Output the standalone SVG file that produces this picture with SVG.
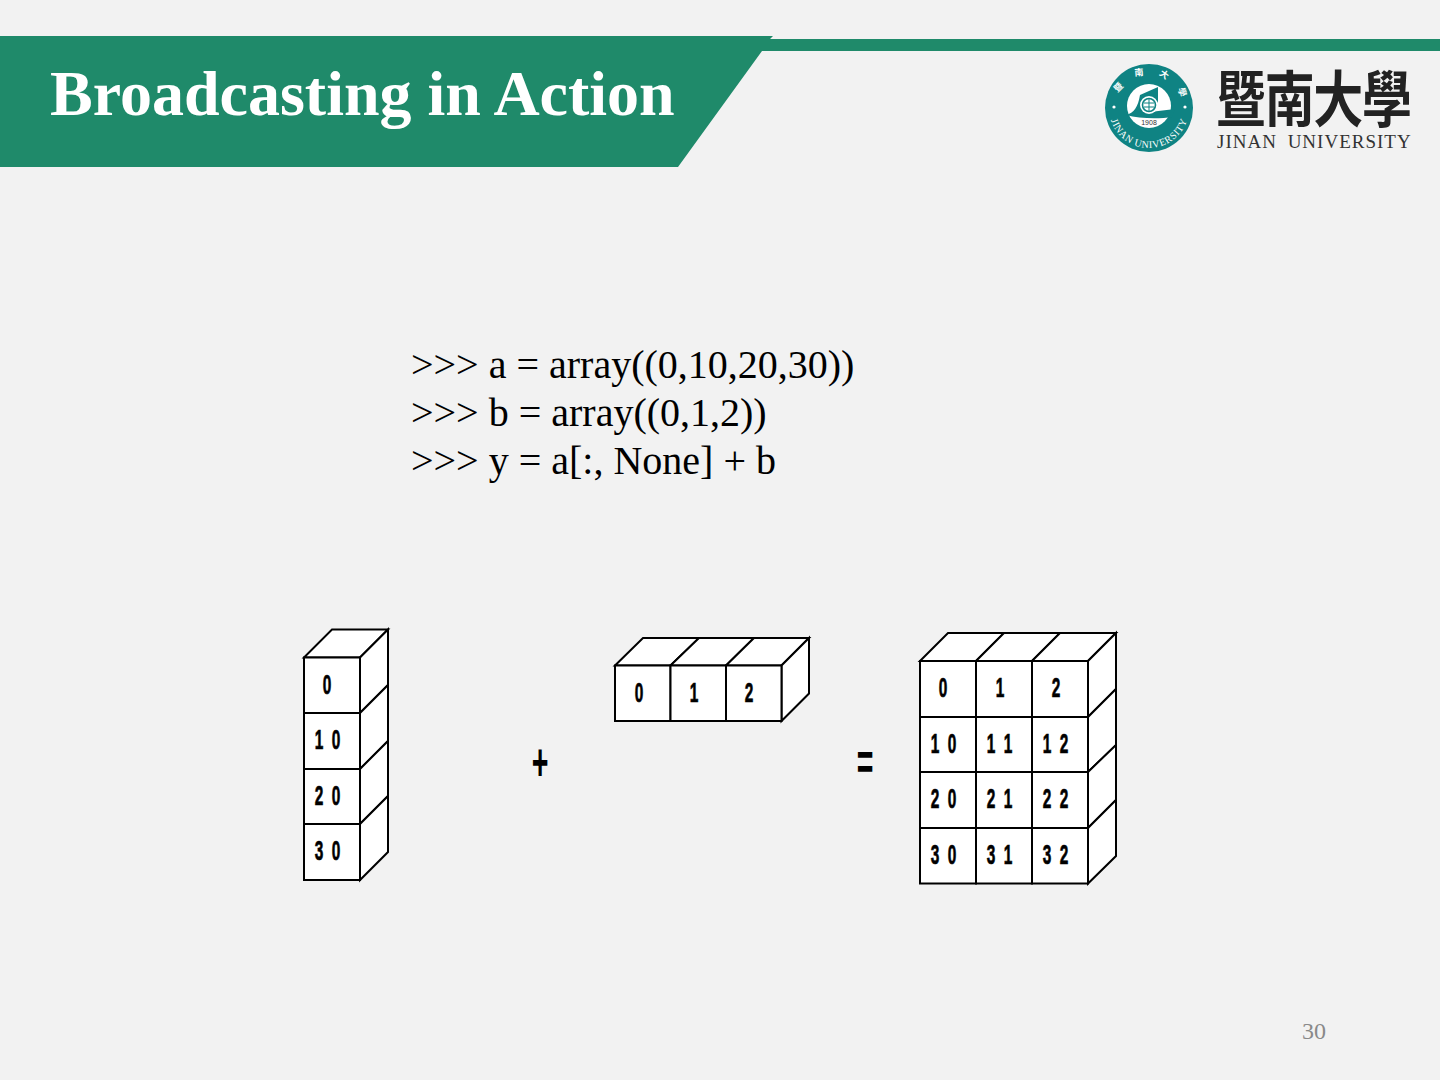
<svg xmlns="http://www.w3.org/2000/svg" width="1440" height="1080" viewBox="0 0 1440 1080">
<style>
.serif{font-family:"Liberation Serif","Times New Roman",serif}
.title{font-size:64px;font-weight:700;fill:#fff}
.code{font-size:40px;fill:#000}
.cell{fill:#fff;stroke:#000;stroke-width:2;stroke-linejoin:miter}
.d{font-family:"Liberation Sans",Arial,sans-serif;font-weight:700;font-size:28px;fill:#000;stroke:#000;stroke-width:.7;text-anchor:middle}
.op{font-family:"Liberation Sans",Arial,sans-serif;font-weight:700;font-size:52px;fill:#000;text-anchor:middle}
.teal{fill:#0f8383}
</style>
<rect width="1440" height="1080" fill="#f2f2f2"/>
<g id="banner">
<polygon points="0,36 773,36 770,39 1440,39 1440,51 762,51 678,167 0,167" fill="#1f8a6a"/>
<text class="serif title" x="50" y="115">Broadcasting in Action</text>
</g>
<defs>
<path id="arcTop" d="M1116,108 A33,33 0 0 1 1182,108"/>
<path id="arcBot" d="M1109,108 A40,40 0 0 0 1189,108"/>
</defs>
<g id="logo">
<circle class="teal" cx="1149" cy="108" r="44"/>
<circle cx="1149" cy="106" r="22" fill="#fff"/>
<path class="teal" d="M1126,115 C1134,113 1138,107 1140,95 L1158,87 L1158,102 L1150,112 L1175,109 L1172,117 C1160,119 1140,119 1126,115Z"/>
<circle cx="1149" cy="105" r="9" fill="#fff"/>
<circle cx="1149" cy="105" r="6.5" fill="none" stroke="#0f8383" stroke-width="1.6"/>
<path d="M1144,103h10M1144,107h10M1149,99v12" stroke="#0f8383" stroke-width="1" fill="none"/>
<text x="1149" y="125" font-family="Liberation Sans,Arial,sans-serif" font-size="7" fill="#333" text-anchor="middle">1908</text>
<text font-family="'Noto Sans CJK TC',sans-serif" font-size="9" font-weight="700" fill="#fff" letter-spacing="14"><textPath href="#arcTop" startOffset="14%">暨南大學</textPath></text>
<text font-family="'Liberation Serif',serif" font-size="10" letter-spacing=".6" fill="#fff" text-anchor="middle"><textPath href="#arcBot" startOffset="50%">JINAN UNIVERSITY</textPath></text>
<circle cx="1114" cy="107" r="1.6" fill="#fff"/>
<circle cx="1185" cy="107" r="1.6" fill="#fff"/>
<text transform="translate(1216,122) scale(1,1.22)" font-family="'Noto Sans CJK TC',sans-serif" font-size="50" font-weight="700" fill="#222" textLength="196" lengthAdjust="spacing">暨南大學</text>
<text class="serif" x="1217" y="148" font-size="19" letter-spacing="1" word-spacing="5" fill="#333">JINAN UNIVERSITY</text>
</g>
<g id="code" class="serif code">
<text x="411" y="378">&gt;&gt;&gt; a = array((0,10,20,30))</text>
<text x="411" y="426">&gt;&gt;&gt; b = array((0,1,2))</text>
<text x="411" y="474">&gt;&gt;&gt; y = a[:, None] + b</text>
</g>
<g id="array-a">
<path class="cell" d="M304,657.5L332,629.5H388L360,657.5Z"/>
<path class="cell" d="M360,657.5L388,629.5V685L360,713Z"/>
<path class="cell" d="M360,713L388,685V741L360,769Z"/>
<path class="cell" d="M360,769L388,741V796L360,824Z"/>
<path class="cell" d="M360,824L388,796V852L360,880Z"/>
<rect class="cell" x="304" y="657.5" width="56" height="55.5"/>
<rect class="cell" x="304" y="713" width="56" height="56"/>
<rect class="cell" x="304" y="769" width="56" height="55"/>
<rect class="cell" x="304" y="824" width="56" height="56"/>
<text class="d" transform="translate(327,694) scale(.55,1)">0</text>
<text class="d" transform="translate(319,749) scale(.55,1)">1</text><text class="d" transform="translate(336,749) scale(.55,1)">0</text>
<text class="d" transform="translate(319,805) scale(.55,1)">2</text><text class="d" transform="translate(336,805) scale(.55,1)">0</text>
<text class="d" transform="translate(319,860) scale(.55,1)">3</text><text class="d" transform="translate(336,860) scale(.55,1)">0</text>
</g>
<g id="plus"><text class="op" transform="translate(540,780) scale(.55,1)">+</text></g>
<g id="array-b">
<path class="cell" d="M615,665.5L643,638H699L670.5,665.5Z"/>
<path class="cell" d="M670.5,665.5L699,638H754L726,665.5Z"/>
<path class="cell" d="M726,665.5L754,638H809L781.5,665.5Z"/>
<path class="cell" d="M781.5,665.5L809,638V693.5L781.5,721Z"/>
<rect class="cell" x="615" y="665.5" width="55.5" height="55.5"/>
<rect class="cell" x="670.5" y="665.5" width="55.5" height="55.5"/>
<rect class="cell" x="726" y="665.5" width="55.5" height="55.5"/>
<text class="d" transform="translate(639,702) scale(.55,1)">0</text>
<text class="d" transform="translate(694,702) scale(.55,1)">1</text>
<text class="d" transform="translate(749,702) scale(.55,1)">2</text>
</g>
<g id="equals"><text class="op" transform="translate(865,780) scale(.55,1)">=</text></g>
<g id="array-y">
<path class="cell" d="M920,661L948,633H1004L976,661Z"/>
<path class="cell" d="M976,661L1004,633H1060L1032,661Z"/>
<path class="cell" d="M1032,661L1060,633H1116L1088,661Z"/>
<path class="cell" d="M1088,661L1116,633V689L1088,717Z"/>
<path class="cell" d="M1088,717L1116,689V745L1088,772Z"/>
<path class="cell" d="M1088,772L1116,745V800L1088,828Z"/>
<path class="cell" d="M1088,828L1116,800V856L1088,883.5Z"/>
<rect class="cell" x="920" y="661" width="56" height="56"/><rect class="cell" x="976" y="661" width="56" height="56"/><rect class="cell" x="1032" y="661" width="56" height="56"/>
<rect class="cell" x="920" y="717" width="56" height="55"/><rect class="cell" x="976" y="717" width="56" height="55"/><rect class="cell" x="1032" y="717" width="56" height="55"/>
<rect class="cell" x="920" y="772" width="56" height="56"/><rect class="cell" x="976" y="772" width="56" height="56"/><rect class="cell" x="1032" y="772" width="56" height="56"/>
<rect class="cell" x="920" y="828" width="56" height="55.5"/><rect class="cell" x="976" y="828" width="56" height="55.5"/><rect class="cell" x="1032" y="828" width="56" height="55.5"/>
<text class="d" transform="translate(943,697) scale(.55,1)">0</text>
<text class="d" transform="translate(1000,697) scale(.55,1)">1</text>
<text class="d" transform="translate(1056,697) scale(.55,1)">2</text>
<text class="d" transform="translate(935,753) scale(.55,1)">1</text><text class="d" transform="translate(952,753) scale(.55,1)">0</text>
<text class="d" transform="translate(991,753) scale(.55,1)">1</text><text class="d" transform="translate(1008,753) scale(.55,1)">1</text>
<text class="d" transform="translate(1047,753) scale(.55,1)">1</text><text class="d" transform="translate(1064,753) scale(.55,1)">2</text>
<text class="d" transform="translate(935,808) scale(.55,1)">2</text><text class="d" transform="translate(952,808) scale(.55,1)">0</text>
<text class="d" transform="translate(991,808) scale(.55,1)">2</text><text class="d" transform="translate(1008,808) scale(.55,1)">1</text>
<text class="d" transform="translate(1047,808) scale(.55,1)">2</text><text class="d" transform="translate(1064,808) scale(.55,1)">2</text>
<text class="d" transform="translate(935,864) scale(.55,1)">3</text><text class="d" transform="translate(952,864) scale(.55,1)">0</text>
<text class="d" transform="translate(991,864) scale(.55,1)">3</text><text class="d" transform="translate(1008,864) scale(.55,1)">1</text>
<text class="d" transform="translate(1047,864) scale(.55,1)">3</text><text class="d" transform="translate(1064,864) scale(.55,1)">2</text>
</g>
<g id="page"><text class="serif" x="1302" y="1039" font-size="24" fill="#898989">30</text></g>
</svg>
